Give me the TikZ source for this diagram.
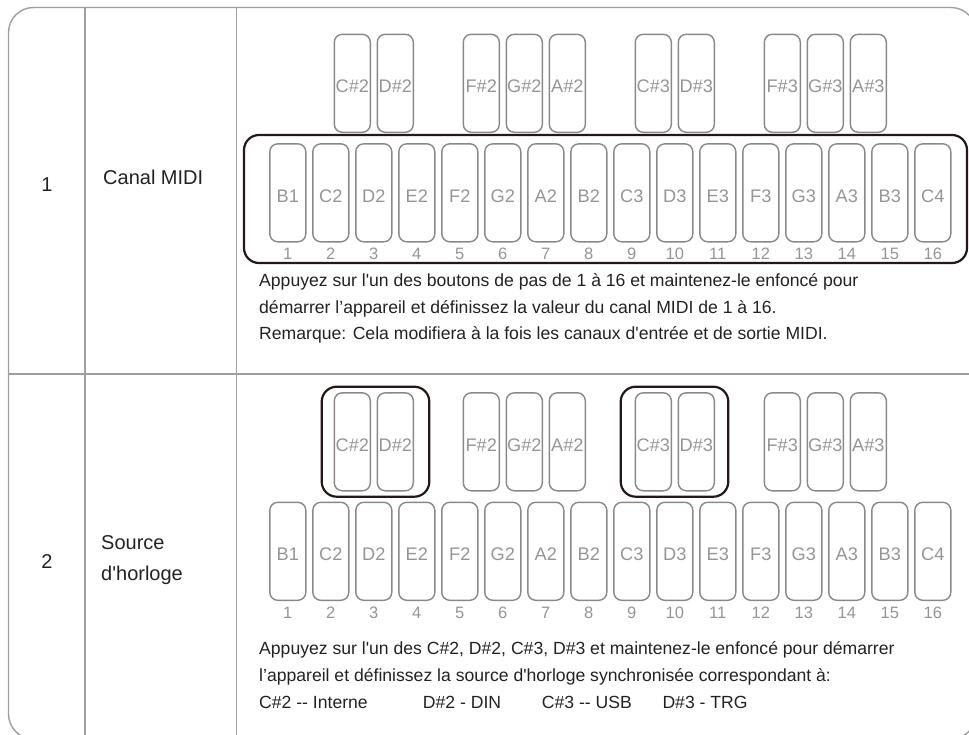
\documentclass[tikz,border=0pt]{standalone}
\usepackage{fontspec}
\newfontfamily\lsans{Liberation Sans}
\definecolor{gridc}{HTML}{9E9E9E}
\definecolor{keyline}{HTML}{888888}
\definecolor{keytext}{HTML}{959595}
\definecolor{txt}{HTML}{222222}
\definecolor{hl}{HTML}{231815}
\begin{document}
\begin{tikzpicture}[x=1pt,y=-1pt,
  gridline/.style={draw=gridc,line width=1.4pt},
  keybox/.style={draw=keyline,line width=1.4pt,rounded corners=8pt,rectangle,
     minimum width=36pt,minimum height=98pt,inner sep=0pt,
     text=keytext,font=\lsans\fontsize{18.2}{20}\selectfont,
     text height=18.6pt,text depth=0pt},
  numlbl/.style={anchor=base,inner sep=0pt,text=keytext,font=\lsans\fontsize{16.5}{19}\selectfont},
  desc/.style={anchor=base west,inner sep=0pt,text=txt,font=\lsans\fontsize{17.6}{20}\selectfont},
  rowlbl/.style={inner sep=0pt,text=txt,font=\lsans\fontsize{20}{24}\selectfont},
  hlbox/.style={draw=hl,line width=2.2pt,rounded corners=15pt}]
\useasboundingbox (0,0) rectangle (969,734);
\clip (0,0) rectangle (969,734);
% table
\draw[gridline,rounded corners=25pt] (8.5,7.5) rectangle (976,739);
\draw[gridline] (8.5,374) -- (969,374);
\draw[gridline] (85,7.5) -- (85,739);
\draw[gridline] (236.5,7.5) -- (236.5,739);
% keyboards
\foreach \r/\dy in {1/0,2/358.5}{
  \foreach \k [count=\c] in {B1,C2,D2,E2,F2,G2,A2,B2,C3,D3,E3,F3,G3,A3,B3,C4}{
    \node[keybox] (w\r-\c) at ({287.8+43*(\c-1)},{192.8+\dy}) {\k};
    \node[numlbl] (n\r-\c) at ({287.8+43*(\c-1)},{259.8+\dy}) {\c};
  }
  \foreach \k/\b in {C/2,D/3,F/5,G/6,A/7}{
    \node[keybox] (b\r-\b) at ({266.3+43*\b},{83.3+\dy}) {\k\#2};
  }
  \foreach \k/\b in {C/9,D/10,F/12,G/13,A/14}{
    \node[keybox] (b\r-\b) at ({266.3+43*\b},{83.3+\dy}) {\k\#3};
  }
}
% highlight boxes
\draw[hlbox] (244,135) rectangle (967,263);
\draw[hlbox] (321.7,386.7) rectangle (429.3,496.7);
\draw[hlbox] (620.7,386.7) rectangle (728.3,496.7);
% row labels
\node[rowlbl,anchor=base] (r1) at (47,191) {1};
\node[rowlbl,anchor=base west] (r1t) at (103,184) {Canal MIDI};
\node[rowlbl,anchor=base] (r2) at (47,568.5) {2};
\node[rowlbl,anchor=base west] (r2a) at (101,549) {Source};
\node[rowlbl,anchor=base west] (r2b) at (101,580.5) {d'horloge};
% descriptions
\node[desc] (d1a) at (259,286.5) {Appuyez sur l'un des boutons de pas de 1 à 16 et maintenez-le enfoncé pour};
\node[desc] (d1b) at (259,313) {démarrer l’appareil et définissez la valeur du canal MIDI de 1 à 16.};
\node[desc] (d1c) at (259,339.5) {Remarque: Cela modifiera à la fois les canaux d'entrée et de sortie MIDI.};
\node[desc] (d2a) at (259,654.5) {Appuyez sur l'un des C\#2, D\#2, C\#3, D\#3 et maintenez-le enfoncé pour démarrer};
\node[desc] (d2b) at (259,681.5) {l’appareil et définissez la source d'horloge synchronisée correspondant à:};
\node[desc] (d2c) at (259,708.3) {C\#2 -- Interne};
\node[desc] (d2d) at (422.7,708.3) {D\#2 - DIN};
\node[desc] (d2e) at (541.7,708.3) {C\#3 -- USB};
\node[desc] (d2f) at (662.3,708.3) {D\#3 - TRG};
\end{tikzpicture}
\end{document}
